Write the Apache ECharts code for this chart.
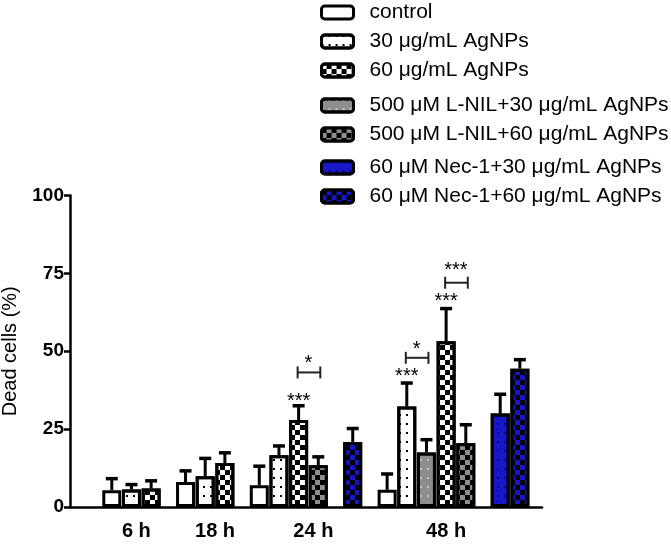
<!DOCTYPE html>
<html>
<head>
<meta charset="utf-8">
<script src="https://cdn.jsdelivr.net/npm/echarts@6/dist/echarts.min.js"></script>
<style>html,body{margin:0;padding:0;background:#fff;}#c{width:671px;height:547px;}</style>
</head>
<body>
<div id="c"></div>
<script>
// ---------- data ----------
const timepoints = ['6 h', '18 h', '24 h', '48 h'];
const seriesNames = [
  'control',
  '30 μg/mL AgNPs',
  '60 μg/mL AgNPs',
  '500 μM L-NIL+30 μg/mL AgNPs',
  '500 μM L-NIL+60 μg/mL AgNPs',
  '60 μM Nec-1+30 μg/mL AgNPs',
  '60 μM Nec-1+60 μg/mL AgNPs'
];
const control   = [5.4, 8.0, 7.0, 5.5];
const ag30      = [5.6, 9.9, 16.6, 32.3];
const ag60      = [5.9, 14.1, 27.9, 53.2];
const lnil30    = [null, null, null, 17.5];
const lnil60    = [null, null, 13.4, 20.5];
const nec30     = [null, null, null, 30.0];
const nec60     = [null, null, 20.9, 44.4];
const controlSD = [3.7, 3.6, 6.1, 5.1];
const ag30SD    = [1.6, 5.7, 3.0, 7.5];
const ag60SD    = [2.5, 3.3, 4.6, 10.5];
const lnil30SD  = [null, null, null, 4.1];
const lnil60SD  = [null, null, 2.7, 5.9];
const nec30SD   = [null, null, null, 6.2];
const nec60SD   = [null, null, 4.3, 2.9];
const yTicks = [0, 25, 50, 75, 100];
// significance marks: [time index, series index], text, y value
const starMarks = [
  {t: 2, s: 2, text: '***', y: 34.0},
  {t: 3, s: 1, text: '***', y: 42.0},
  {t: 3, s: 2, text: '***', y: 66.1}
];
const brackets = [
  {t: 2, a: 2, b: 4, y: 43.2, text: '*', ty: 46.2},
  {t: 3, a: 1, b: 3, y: 47.9, text: '*', ty: 50.7},
  {t: 3, a: 2, b: 4, y: 72.0, text: '***', ty: 76.0}
];

// ---------- layout (slot positions on the category axis) ----------
const SLOT_COUNT = 96;
const slotOf = [
  [8, 23, 38, 64],
  [12, 27, 42, 68],
  [16, 31, 46, 76],
  [null, null, null, 72],
  [null, null, 50, 80],
  [null, null, null, 87],
  [null, null, 57, 91]
];
const emptyTickSlot = 2;
const labelSlots = [13, 29, 49, 76];

const values = [control, ag30, ag60, lnil30, lnil60, nec30, nec60];
const sds = [controlSD, ag30SD, ag60SD, lnil30SD, lnil60SD, nec30SD, nec60SD];

const FONT = "'Liberation Sans', Arial, sans-serif";
const dots = (c) => ({symbol: 'rect', symbolSize: 1, dashArrayX: [2, 5], dashArrayY: [2, 7], color: c});
const checker = (c) => ({symbol: 'rect', symbolSize: 1, dashArrayX: [[5, 5], [0, 5, 5, 0]], dashArrayY: [5, 0], color: c});
const styles = [
  {color: '#ffffff'},
  {color: '#ffffff', decal: dots('#000000')},
  {color: '#ffffff', decal: checker('#000000')},
  {color: '#8e8e8e', decal: dots('#c4c4c4')},
  {color: '#000000', decal: checker('#8e8e8e')},
  {color: '#1818c8', decal: dots('#0a0a78')},
  {color: '#000000', decal: checker('#1616c4')}
];

const slotNames = [];
for (let i = 0; i < SLOT_COUNT; i++) slotNames.push('s' + i);
const labelAt = {};
labelSlots.forEach((s, i) => { labelAt[s] = timepoints[i]; });
const tickSet = new Set([emptyTickSlot]);
slotOf.forEach(arr => arr.forEach(s => { if (s !== null) tickSet.add(s); }));

const series = [];
const errData = [];
values.forEach((vals, si) => {
  const d = new Array(SLOT_COUNT).fill(null);
  vals.forEach((v, ti) => {
    if (v !== null) {
      d[slotOf[si][ti]] = v;
      errData.push([slotOf[si][ti], v, v + sds[si][ti]]);
    }
  });
  series.push({
    name: seriesNames[si], type: 'bar', data: d, barWidth: 19, barGap: '-100%',
    itemStyle: Object.assign({borderColor: '#000', borderWidth: 3}, styles[si]),
    emphasis: {disabled: true}, z: 2
  });
});

series.push({
  type: 'custom', z: 3, silent: true,
  data: errData,
  encode: {x: 0, y: [1, 2]},
  renderItem: (params, api) => {
    const x = api.value(0);
    const p0 = api.coord([x, api.value(1)]);
    const p1 = api.coord([x, api.value(2)]);
    return {type: 'group', children: [
      {type: 'line', shape: {x1: p0[0], y1: p0[1], x2: p1[0], y2: p1[1]}, style: {stroke: '#000', lineWidth: 3}},
      {type: 'line', shape: {x1: p1[0] - 6, y1: p1[1], x2: p1[0] + 6, y2: p1[1]}, style: {stroke: '#000', lineWidth: 3.5}}
    ]};
  }
});

const textData = [];
starMarks.forEach(m => textData.push([slotOf[m.s][m.t], m.y, m.text]));
brackets.forEach(b => textData.push([(slotOf[b.a][b.t] + slotOf[b.b][b.t]) / 2, b.ty, b.text]));
series.push({
  type: 'custom', z: 4, silent: true,
  data: textData.map(d => [d[0], d[1]]),
  renderItem: (params, api) => {
    const p = api.coord([api.value(0), api.value(1)]);
    return {type: 'text', x: p[0], y: p[1], style: {text: textData[params.dataIndex][2], fill: '#000', font: '20px ' + FONT, align: 'center', verticalAlign: 'middle'}};
  }
});
series.push({
  type: 'custom', z: 4, silent: true,
  data: brackets.map(b => [slotOf[b.a][b.t], slotOf[b.b][b.t], b.y]),
  renderItem: (params, api) => {
    const a = api.coord([api.value(0), api.value(2)]);
    const b = api.coord([api.value(1), api.value(2)]);
    const h = 6;
    const ax = a[0] - 1, bx = b[0] + 2;
    return {type: 'group', children: [
      {type: 'line', shape: {x1: ax, y1: a[1], x2: bx, y2: b[1]}, style: {stroke: '#222', lineWidth: 2}},
      {type: 'line', shape: {x1: ax, y1: a[1] - h, x2: ax, y2: a[1] + h}, style: {stroke: '#222', lineWidth: 2}},
      {type: 'line', shape: {x1: bx, y1: b[1] - h, x2: bx, y2: b[1] + h}, style: {stroke: '#222', lineWidth: 2}}
    ]};
  }
});

const legendBase = {
  orient: 'vertical', left: 320, padding: 0, itemWidth: 32, itemHeight: 13, itemGap: 8, icon: 'roundRect',
  itemStyle: {borderColor: '#000', borderWidth: 3},
  textStyle: {fontFamily: FONT, fontSize: 21, color: '#000', padding: [0, 0, 0, 11]},
  selectedMode: false
};

const option = {
  animation: false,
  backgroundColor: '#fff',
  grid: {left: 70, right: 129, top: 195.5, bottom: 40, containLabel: false, outerBoundsMode: 'none'},
  legend: [
    Object.assign({}, legendBase, {top: 2, data: seriesNames.slice(0, 3)}),
    Object.assign({}, legendBase, {top: 95, data: seriesNames.slice(3, 5)}),
    Object.assign({}, legendBase, {top: 157, data: seriesNames.slice(5, 7)})
  ],
  xAxis: {
    type: 'category', data: slotNames, boundaryGap: true,
    axisLine: {lineStyle: {color: '#000', width: 2.5}},
    axisTick: {alignWithLabel: true, length: 7, lineStyle: {color: '#000', width: 2.5}, interval: (i) => tickSet.has(i)},
    axisLabel: {interval: (i) => labelAt[i] !== undefined, formatter: (v, i) => labelAt[i] || '',
      fontFamily: FONT, fontWeight: 'bold', fontSize: 20, color: '#000', margin: 14}
  },
  yAxis: {
    type: 'value', min: yTicks[0], max: yTicks[yTicks.length - 1], interval: yTicks[1] - yTicks[0],
    name: 'Dead cells (%)', nameLocation: 'middle', nameGap: 50,
    nameTextStyle: {fontFamily: FONT, fontSize: 20, color: '#000'},
    splitLine: {show: false},
    axisLine: {show: true, lineStyle: {color: '#000', width: 2.5}},
    axisTick: {show: true, length: 6, lineStyle: {color: '#000', width: 2.5}},
    axisLabel: {fontFamily: FONT, fontWeight: 'bold', fontSize: 19, color: '#000', margin: 6}
  },
  series: series
};
const chart = echarts.init(document.getElementById('c'), null, {renderer: 'canvas'});
chart.setOption(option);
</script>
</body>
</html>
